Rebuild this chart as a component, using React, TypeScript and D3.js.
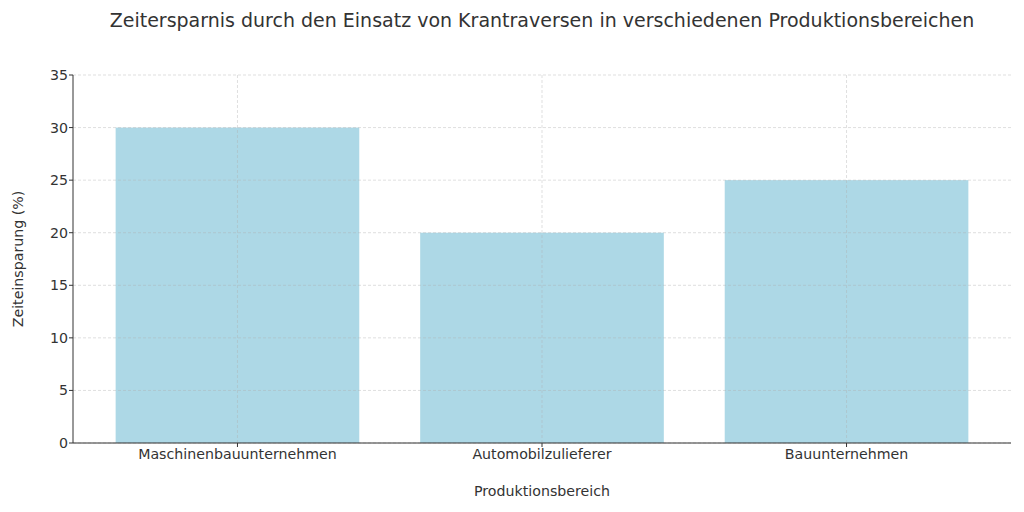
import React from "react";
import * as d3 from "d3";

const categories = ["Maschinenbauunternehmen", "Automobilzulieferer", "Bauunternehmen"];
const values = [30, 20, 25];
const yTicks = [0, 5, 10, 15, 20, 25, 30, 35];
const title = "Zeitersparnis durch den Einsatz von Krantraversen in verschiedenen Produktionsbereichen";
const xLabel = "Produktionsbereich";
const yLabel = "Zeiteinsparung (%)";

const W = 1024, H = 512;
const left = 73, right = 1011, top = 75, bottom = 443;
const font = "DejaVu Sans, sans-serif";
const textColor = "#333333";

export default function App() {
  const x = d3.scaleLinear().domain([-0.54, 2.54]).range([left, right]);
  const y = d3.scaleLinear().domain([0, 35]).range([bottom, top]);
  const bw = x(0.8) - x(0);
  return (
    <svg width={W} height={H} style={{ position: "absolute", left: 0, top: 0, background: "#fff" }}>
      {categories.map((c, i) => (
        <rect key={c} x={x(i) - bw / 2} y={y(values[i])} width={bw} height={y(0) - y(values[i])} fill="#add8e6" />
      ))}
      {yTicks.map((t) => (
        <line key={"gy" + t} x1={left} x2={right} y1={y(t)} y2={y(t)} stroke="#b0b0b0" strokeOpacity={0.5} strokeDasharray="3,2" strokeWidth={0.8} />
      ))}
      {categories.map((c, i) => (
        <line key={"gx" + c} x1={x(i)} x2={x(i)} y1={top} y2={bottom} stroke="#b0b0b0" strokeOpacity={0.5} strokeDasharray="3,2" strokeWidth={0.8} />
      ))}
      <line x1={left} x2={left} y1={top} y2={bottom} stroke={textColor} strokeWidth={1} />
      <line x1={left} x2={right} y1={bottom} y2={bottom} stroke={textColor} strokeWidth={1} />
      {yTicks.map((t) => (
        <g key={"ty" + t}>
          <line x1={left - 4} x2={left} y1={y(t)} y2={y(t)} stroke={textColor} />
          <text x={left - 5} y={y(t)} dy="0.35em" textAnchor="end" fontFamily={font} fontSize={14.2} fill={textColor}>{t}</text>
        </g>
      ))}
      {categories.map((c, i) => (
        <g key={"tx" + c}>
          <line x1={x(i)} x2={x(i)} y1={bottom} y2={bottom + 4} stroke={textColor} />
          <text x={x(i)} y={bottom + 16} textAnchor="middle" fontFamily={font} fontSize={14.2} fill={textColor}>{c}</text>
        </g>
      ))}
      <text x={(left + right) / 2} y={496} textAnchor="middle" fontFamily={font} fontSize={14.2} fill={textColor}>{xLabel}</text>
      <text transform={`translate(23,${(top + bottom) / 2}) rotate(-90)`} textAnchor="middle" fontFamily={font} fontSize={14.2} fill={textColor}>{yLabel}</text>
      <text x={(left + right) / 2} y={27} textAnchor="middle" fontFamily={font} fontSize={19} fill={textColor}>{title}</text>
    </svg>
  );
}
